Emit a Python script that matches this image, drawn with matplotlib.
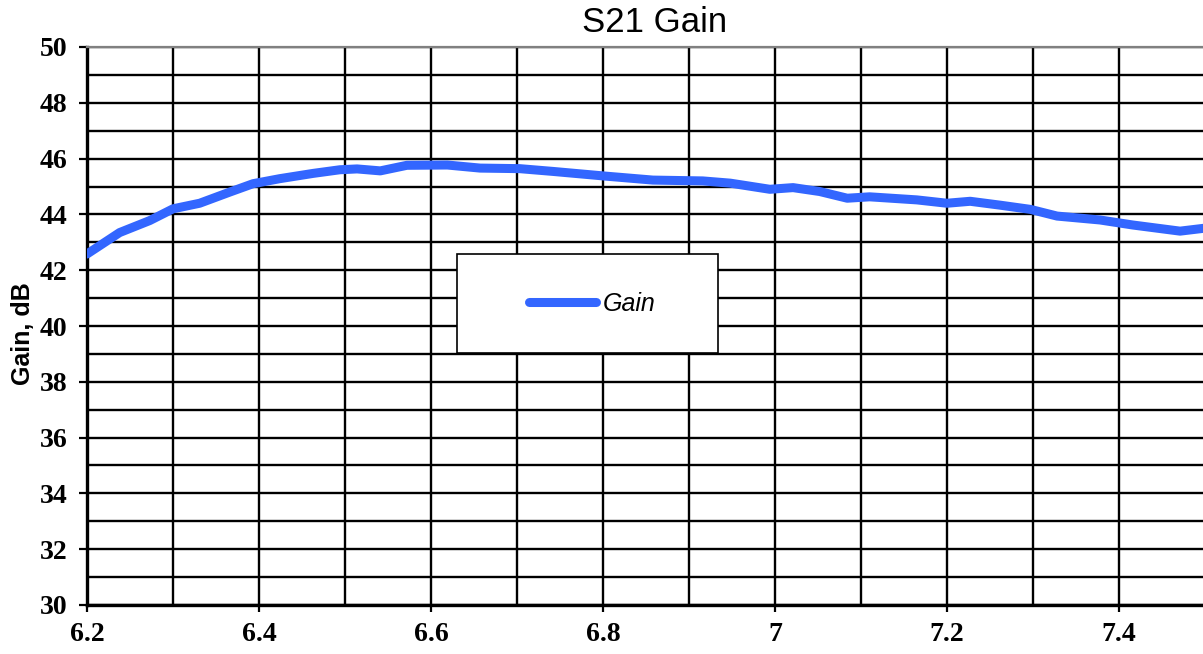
import matplotlib
matplotlib.use("Agg")
import matplotlib.pyplot as plt
from matplotlib.ticker import MultipleLocator, FuncFormatter
from matplotlib.patches import Rectangle

plt.rcParams["font.family"] = ["Liberation Serif", "DejaVu Serif"]
plt.rcParams["font.weight"] = "bold"

# Data
freq_ghz = [6.200, 6.238, 6.273, 6.300, 6.331, 6.366, 6.393, 6.424, 6.463, 6.494,
            6.514, 6.541, 6.572, 6.619, 6.657, 6.703, 6.742, 6.800, 6.858, 6.916,
            6.948, 6.994, 7.021, 7.052, 7.084, 7.110, 7.165, 7.200, 7.227, 7.262,
            7.297, 7.328, 7.378, 7.416, 7.471, 7.498, 7.520]
gain_db = [42.58, 43.35, 43.78, 44.20, 44.40, 44.80, 45.10, 45.28, 45.47, 45.60,
           45.63, 45.56, 45.76, 45.77, 45.66, 45.64, 45.54, 45.38, 45.23, 45.20,
           45.12, 44.90, 44.96, 44.82, 44.58, 44.63, 44.52, 44.40, 44.47, 44.33,
           44.18, 43.94, 43.80, 43.62, 43.40, 43.50, 43.52]
series_name = "Gain"
title = "S21 Gain"
y_label = "Gain, dB"

W, H = 1203, 654
fig = plt.figure(figsize=(W / 100, H / 100), dpi=100)
ax = fig.add_axes([87 / W, 1 - 605 / H, (W - 87) / W, 558 / H])

line_color = "#3366FF"
ax.plot(freq_ghz, gain_db, color=line_color, lw=6.5, solid_capstyle="round",
        solid_joinstyle="round", label=series_name, zorder=3)

ax.set_xlim(6.2, 6.2 + (W - 87) / 860)
ax.set_ylim(30, 50)
ax.xaxis.set_major_locator(MultipleLocator(0.2))
ax.xaxis.set_minor_locator(MultipleLocator(0.1))
ax.yaxis.set_major_locator(MultipleLocator(2))
ax.yaxis.set_minor_locator(MultipleLocator(1))
ax.xaxis.set_major_formatter(FuncFormatter(lambda v, p: f"{v:g}"))

ax.set_axisbelow(True)
ax.grid(which="both", color="black", lw=1.7)

ax.tick_params(axis="y", which="major", direction="out", length=6, width=1.6,
               pad=8, labelsize=20)
ax.tick_params(axis="x", which="major", direction="out", length=5, width=1.6,
               pad=7, labelsize=20)
ax.tick_params(which="minor", length=0)

for s in ("left", "bottom"):
    ax.spines[s].set_color("black")
    ax.spines[s].set_linewidth(2.4)
ax.spines["top"].set_color("#808080")
ax.spines["top"].set_linewidth(1.6)
ax.spines["right"].set_visible(False)

ax.set_ylabel(y_label, family="Liberation Sans", weight="bold", fontsize=18)
ax.yaxis.set_label_coords(-0.047, 0.487)

fig.text(655 / W, 1 - 22 / H, title, family="Liberation Sans", weight="normal",
         fontsize=25, ha="center", va="center")

# Legend box
ax.add_patch(Rectangle(((457 - 87) / 1116, (605 - 353) / 558), 261 / 1116, 99 / 558,
                       transform=ax.transAxes, facecolor="white", edgecolor="black",
                       lw=1.2, zorder=4))
leg = ax.legend(loc="center", bbox_to_anchor=(592 / W, 1 - 304 / H),
                bbox_transform=fig.transFigure, frameon=False,
                prop=dict(family="Liberation Sans", style="italic", weight="normal",
                          size=18),
                handlelength=2.7, handletextpad=0.25)
leg.set_zorder(5)
for h in leg.get_lines():
    h.set_solid_capstyle("round")

fig.savefig("out.png", dpi=100)
